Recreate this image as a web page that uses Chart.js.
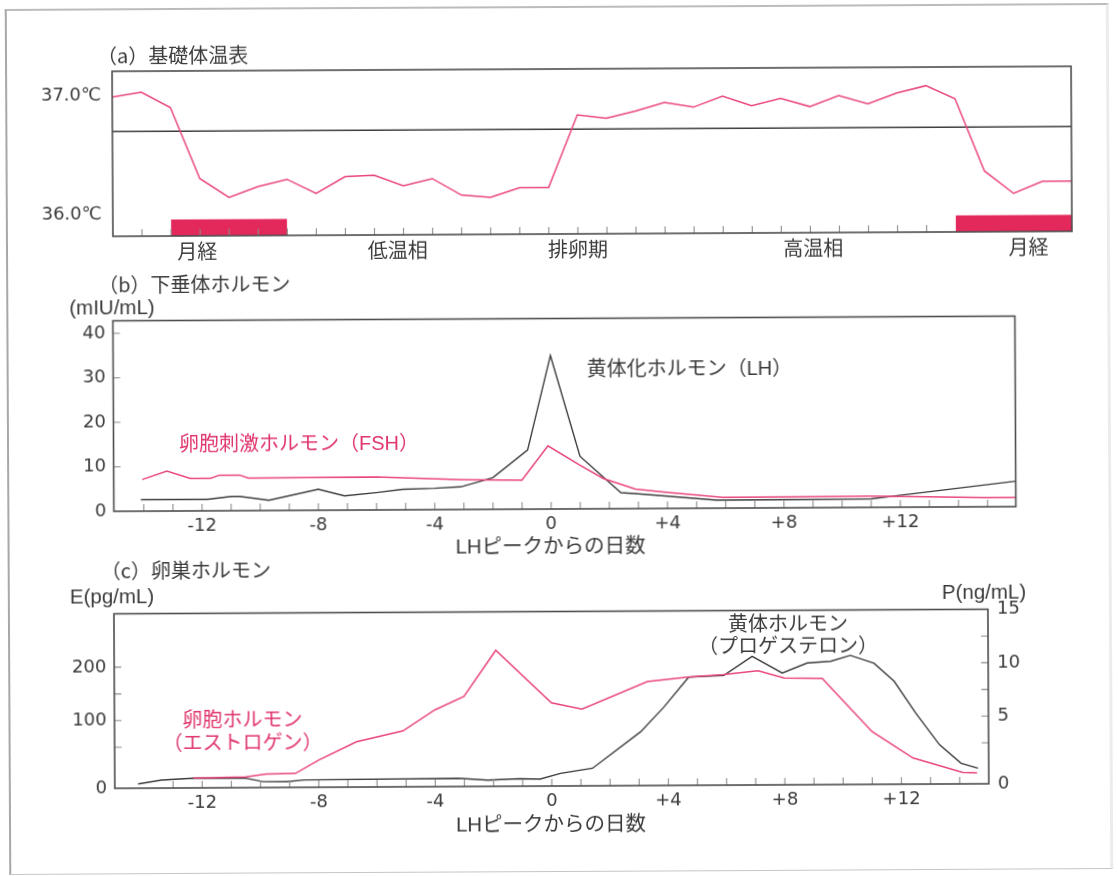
<!DOCTYPE html>
<html lang="ja">
<head>
<meta charset="utf-8">
<title>基礎体温とホルモンの変化</title>
<script src="https://cdn.jsdelivr.net/npm/chart.js@4.4.1/dist/chart.umd.min.js"></script>
<style>
  html, body { margin: 0; padding: 0; background: #fff; overflow: hidden; }
  #page {
    position: relative; width: 1118px; height: 876px; background: #fff;
    transform: rotate(-0.3deg); transform-origin: 559px 438px;
  }
  #page canvas { position: absolute; left: 0; top: 0; }
  .sheet {
    position: absolute; left: 7px; top: 6px; width: 1104px; height: 866px; box-sizing: border-box;
    border-left: 2px solid #a8a8a8; border-top: 2px solid #bcbcbc;
    border-bottom: 1.5px solid #c6c6c6; border-right: 3px solid #ececec;
  }
  .t {
    position: absolute; white-space: nowrap; transform: translateY(-50%);
    font-family: "Noto Sans CJK JP", sans-serif; font-size: 20px; line-height: 20px; color: #3a3a3a;
  }
  .lat { font-family: "Liberation Sans", "Noto Sans CJK JP", sans-serif; }
  .unit { font-size: 20.5px; }
  .mid { transform: translate(-50%, -50%); text-align: center; }
  .pink { color: #e0356c; }
</style>
</head>
<body>
<div id="page">
  <div class="sheet"></div>
  <canvas id="bbt" width="1118" height="876"></canvas>
  <canvas id="pituitary" width="1118" height="876"></canvas>
  <canvas id="ovary" width="1118" height="876"></canvas>

  <div class="t" style="left:99px; top:53px;">（a）基礎体温表</div>

  <div class="t" style="left:99px; top:282px;">（b）下垂体ホルモン</div>
  <div class="t lat unit" style="left:70px; top:305px;">(mIU/mL)</div>
  <div class="t lat" style="left:587px; top:369px;">黄体化ホルモン（LH）</div>
  <div class="t lat pink" style="left:179px; top:442px;">卵胞刺激ホルモン（FSH）</div>
  <div class="t lat mid" style="left:550px; top:546px; font-size:20.5px;">LHピークからの日数</div>

  <div class="t" style="left:100px; top:568px;">（c）卵巣ホルモン</div>
  <div class="t lat unit" style="left:69px; top:594px;">E(pg/mL)</div>
  <div class="t lat unit" style="left:941px; top:594px;">P(ng/mL)</div>
  <div class="t mid" style="left:787px; top:624px;">黄体ホルモン</div>
  <div class="t mid" style="left:787px; top:646px;">（プロゲステロン）</div>
  <div class="t mid pink" style="left:241px; top:717px;">卵胞ホルモン</div>
  <div class="t mid pink" style="left:241px; top:740px;">（エストロゲン）</div>
  <div class="t lat mid" style="left:549px; top:824px; font-size:20.5px;">LHピークからの日数</div>
</div>

<script>
// ---------- (a) basal body temperature, one reading per cycle day ----------
const bbtDays  = [0, 1, 2, 3, 4, 5, 6, 7, 8, 9, 10, 11, 12, 13, 14, 15, 16,
                  17, 18, 19, 20, 21, 22, 23, 24, 25, 26, 27, 28, 29, 30, 31, 32, 33];
const bbtTemps = [36.99, 37.03, 36.90, 36.30, 36.14, 36.23, 36.29, 36.17, 36.31, 36.32,
                  36.23, 36.29, 36.15, 36.13, 36.21, 36.21, 36.82, 36.79, 36.85, 36.92,
                  36.88, 36.97, 36.89, 36.95, 36.88, 36.97, 36.90, 36.99, 37.05, 36.94,
                  36.33, 36.14, 36.24, 36.24];
const lowHighBoundary = 36.7;              // divides the low and high temperature phases
const mensesStart = [2, 29];
const mensesEnd   = [6, 33];
const phaseDays   = [2.9, 9.8, 16.0, 24.1, 31.5];
const phaseNames  = ['月経', '低温相', '排卵期', '高温相', '月経'];
const tempTicks   = [36.0, 37.0];
const bbtTickDays = [1, 2, 3, 4, 5, 6, 7, 8, 9, 10, 11, 12, 13, 14,
                     15, 16, 17, 18, 19, 20, 21, 22, 23, 24, 25, 26, 27, 28];

// ---------- (b) pituitary hormones, days from the LH peak ----------
const lhDays    = [-14.1, -11.8, -11.0, -10.7, -9.7, -8.0, -7.1, -6.0, -5.1, -4.0, -3.1,
                   -2.0, -0.8, 0.0, 1.0, 2.4, 3.0, 5.7, 11.0, 11.9, 15.95];
const lhValues  = [2.6, 2.6, 3.2, 3.2, 2.3, 4.7, 3.2, 3.9, 4.6, 4.8, 5.1,
                   7.1, 13.3, 34.5, 11.8, 3.6, 3.3, 1.8, 1.9, 2.6, 5.7];
const fshDays   = [-14.05, -13.2, -12.4, -11.7, -11.4, -10.7, -10.4, -6.0, -3.0, -1.0,
                   -0.1, 1.0, 1.8, 2.9, 4.0, 5.9, 11.0, 14.9, 15.95];
const fshValues = [7.1, 9.0, 7.3, 7.3, 8.0, 8.0, 7.3, 7.4, 6.7, 6.5,
                   14.2, 9.8, 6.8, 4.4, 3.6, 2.4, 2.5, 2.1, 2.1];
const gonadotropinTicks = [0, 10, 20, 30, 40];
const gonadotropinMarks = [10, 20, 30, 40];
const pituitaryTickDays = [-14, -13, -12, -11, -10, -9, -8, -7, -6, -5, -4, -3, -2, -1,
                           0, 1, 2, 3, 4, 5, 6, 7, 8, 9, 10, 11, 12, 13, 14, 15];

// ---------- (c) ovarian hormones ----------
const estrogenDays   = [-12.3, -10.5, -9.8, -8.8, -8.0, -6.7, -5.1, -4.0, -3.0, -1.9, 0.0,
                        1.05, 3.3, 4.7, 5.9, 7.1, 8.0, 9.3, 11.0, 12.4, 14.1, 14.6];
const estrogenValues = [12, 13, 16.5, 17, 33, 58, 78, 117, 142, 228, 129,
                        117, 168, 176, 180, 187, 173, 172, 72, 32, 14, 13.5];
const progesteroneDays   = [-14.2, -13.4, -12.3, -10.5, -9.9, -9.1, -8.5, -3.2, -2.2, -1.1,
                            -0.4, 0.3, 1.4, 3.06, 3.86, 4.72, 5.92, 6.9, 7.93, 8.79, 9.59,
                            10.27, 11.08, 11.77, 12.51, 13.31, 14.05, 14.63];
const progesteroneValues = [0.26, 0.49, 0.59, 0.57, 0.36, 0.35, 0.45, 0.50, 0.38, 0.46,
                            0.43, 0.77, 1.07, 3.7, 6.0, 8.8, 8.93, 10.7, 9.13, 10.06, 10.2,
                            10.75, 10.0, 8.3, 5.3, 2.4, 1.26, 0.95];
const estrogenTicks     = [0, 100, 200];
const estrogenMarks     = [50, 100, 150, 200];
const progesteroneTicks = [0, 5, 10, 15];
const progesteroneMarks = [2.5, 5, 7.5, 10, 12.5];
const ovaryTickDays = [-13, -12, -11, -10, -9, -8, -7, -6, -5, -4, -3, -2, -1,
                       0, 1, 2, 3, 4, 5, 6, 7, 8, 9, 10, 11, 12, 13, 14];

const dayTicks = [-12, -8, -4, 0, 4, 8, 12];

// ---------- styling ----------
const TEXT = '#3a3a3a';
const PINK_LINE = '#e9467d';
const DARK_LINE = '#3d3d3d';
const BAR = '#e3285c';
const FRAME = '#4d4d4d';
const TICK = '#8c8c8c';
const TICK_LEN = 7;
const MENSES_TOP = 35.957;
const NUM_FONT = { family: '"DejaVu Sans", "Noto Sans CJK JP", sans-serif', size: 18, lineHeight: 1.2 };
const JP_FONT  = { family: '"Noto Sans CJK JP", sans-serif', size: 20, lineHeight: 1.2 };

Chart.defaults.animation = false;
Chart.defaults.events = [];
Chart.defaults.responsive = false;
Chart.defaults.color = TEXT;
Chart.defaults.plugins.legend.display = false;
Chart.defaults.plugins.tooltip.enabled = false;
Chart.defaults.elements.point.radius = 0;
Chart.defaults.elements.line.tension = 0;

// Linear axis whose lowest interval is given a larger share of the height
// (the hormone scales in panel c are drawn this way).
class SplitLinearScale extends Chart.LinearScale {
  static id = 'splitLinear';
  static defaults = {};
  _decimalOf(v) {
    const { split, lowerShare } = this.options;
    if (v <= split) return (v - this.min) / (split - this.min) * lowerShare;
    return lowerShare + (v - split) / (this.max - split) * (1 - lowerShare);
  }
  getPixelForValue(value) {
    if (value === null || value === undefined) return NaN;
    return this.getPixelForDecimal(this._decimalOf(value));
  }
  getValueForPixel(pixel) {
    const d = this.getDecimalForPixel(pixel);
    const { split, lowerShare } = this.options;
    if (d <= lowerShare) return this.min + d / lowerShare * (split - this.min);
    return split + (d - lowerShare) / (1 - lowerShare) * (this.max - split);
  }
}
Chart.register(SplitLinearScale);

const pairs = (xs, ys) => xs.map((x, i) => ({ x, y: ys[i] }));
const fixedTicks = vals => scale => { scale.ticks = vals.map(v => ({ value: v })); };
const noGrid = { display: false, drawTicks: false };

// Box frame around the plot area plus short tick marks pointing inwards.
function boxedAxes(marks) {
  return {
    id: 'boxedAxes',
    afterDatasetsDraw(chart) {
      const { ctx, chartArea: a, scales } = chart;
      ctx.save();
      ctx.strokeStyle = TICK;
      ctx.lineWidth = 1.1;
      ctx.beginPath();
      for (const [id, vals] of Object.entries(marks)) {
        const s = scales[id];
        for (const v of vals) {
          const p = s.getPixelForValue(v);
          if (s.isHorizontal()) { ctx.moveTo(p, a.bottom); ctx.lineTo(p, a.bottom - TICK_LEN); }
          else if (s.position === 'right') { ctx.moveTo(a.right, p); ctx.lineTo(a.right - TICK_LEN, p); }
          else { ctx.moveTo(a.left, p); ctx.lineTo(a.left + TICK_LEN, p); }
        }
      }
      ctx.stroke();
      ctx.strokeStyle = FRAME;
      ctx.lineWidth = 1.6;
      ctx.strokeRect(a.left, a.top, a.right - a.left, a.bottom - a.top);
      ctx.restore();
    }
  };
}

const dayLabel = v => (v > 0 ? '+' + v : String(v));

// ---------- (a) ----------
new Chart(document.getElementById('bbt'), {
  type: 'line',
  data: {
    datasets: [
      { data: pairs(bbtDays, bbtTemps), borderColor: PINK_LINE, borderWidth: 1.5 },
      { data: [{ x: bbtDays[0], y: lowHighBoundary }, { x: bbtDays[bbtDays.length - 1], y: lowHighBoundary }],
        borderColor: DARK_LINE, borderWidth: 1.4 },
      ...mensesStart.map((d, i) => ({
        data: [{ x: d, y: MENSES_TOP }, { x: mensesEnd[i], y: MENSES_TOP }],
        borderWidth: 0, borderColor: BAR, backgroundColor: BAR, fill: 'start'
      }))
    ]
  },
  options: {
    layout: { padding: { left: 0, top: 69, right: 45, bottom: 612 } },
    scales: {
      x: {
        type: 'linear', min: 0, max: 33, grid: noGrid, border: { display: false },
        afterFit: s => { s.height = 30; },
        afterBuildTicks: fixedTicks(phaseDays),
        ticks: { autoSkip: false, maxRotation: 0, minRotation: 0, padding: 3, font: JP_FONT, color: TEXT,
                 callback: (v, i) => phaseNames[i] }
      },
      y: {
        type: 'linear', min: 35.818, max: 37.207, grid: noGrid, border: { display: false },
        afterFit: s => { s.width = 114; },
        afterBuildTicks: fixedTicks(tempTicks),
        ticks: { padding: 11, font: NUM_FONT, color: TEXT, callback: v => Number(v).toFixed(1) + '℃' }
      }
    }
  },
  plugins: [boxedAxes({ x: bbtTickDays })]
});

// ---------- (b) ----------
new Chart(document.getElementById('pituitary'), {
  type: 'line',
  data: {
    datasets: [
      { data: pairs(fshDays, fshValues), borderColor: PINK_LINE, borderWidth: 1.5 },
      { data: pairs(lhDays, lhValues), borderColor: DARK_LINE, borderWidth: 1.4 }
    ]
  },
  options: {
    layout: { padding: { left: 0, top: 318.5, right: 102.5, bottom: 322 } },
    scales: {
      x: {
        type: 'linear', min: -15.03, max: 15.97, grid: noGrid, border: { display: false },
        afterFit: s => { s.height = 45; },
        afterBuildTicks: fixedTicks(dayTicks),
        ticks: { autoSkip: false, maxRotation: 0, minRotation: 0, padding: 5, font: NUM_FONT, color: TEXT,
                 callback: dayLabel }
      },
      y: {
        type: 'linear', min: 0, max: 42.8, grid: noGrid, border: { display: false },
        afterFit: s => { s.width = 113.5; },
        afterBuildTicks: fixedTicks(gonadotropinTicks),
        ticks: { padding: 7.5, font: NUM_FONT, color: TEXT }
      }
    }
  },
  plugins: [boxedAxes({ x: pituitaryTickDays, y: gonadotropinMarks })]
});

// ---------- (c) ----------
new Chart(document.getElementById('ovary'), {
  type: 'line',
  data: {
    datasets: [
      { data: pairs(estrogenDays, estrogenValues), yAxisID: 'y', borderColor: PINK_LINE, borderWidth: 1.5 },
      { data: pairs(progesteroneDays, progesteroneValues), yAxisID: 'y2', borderColor: DARK_LINE, borderWidth: 1.4 }
    ]
  },
  options: {
    layout: { padding: { left: 0, top: 611.5, right: 0, bottom: 50 } },
    scales: {
      x: {
        type: 'linear', min: -15, max: 15, grid: noGrid, border: { display: false },
        afterFit: s => { s.height = 40; },
        afterBuildTicks: fixedTicks(dayTicks),
        ticks: { autoSkip: false, maxRotation: 0, minRotation: 0, padding: 4.7, font: NUM_FONT, color: TEXT,
                 callback: dayLabel }
      },
      y: {
        type: 'splitLinear', position: 'left', min: 0, max: 300, split: 50, lowerShare: 0.235,
        grid: noGrid, border: { display: false },
        afterFit: s => { s.width = 113; },
        afterBuildTicks: fixedTicks(estrogenTicks),
        ticks: { padding: 7.8, font: NUM_FONT, color: TEXT }
      },
      y2: {
        type: 'splitLinear', position: 'right', min: 0, max: 15, split: 2.5, lowerShare: 0.235,
        grid: noGrid, border: { display: false },
        afterFit: s => { s.width = 131; },
        afterBuildTicks: fixedTicks(progesteroneTicks),
        ticks: { padding: 9, font: NUM_FONT, color: TEXT }
      }
    }
  },
  plugins: [boxedAxes({ x: ovaryTickDays, y: estrogenMarks, y2: progesteroneMarks })]
});
</script>
</body>
</html>
